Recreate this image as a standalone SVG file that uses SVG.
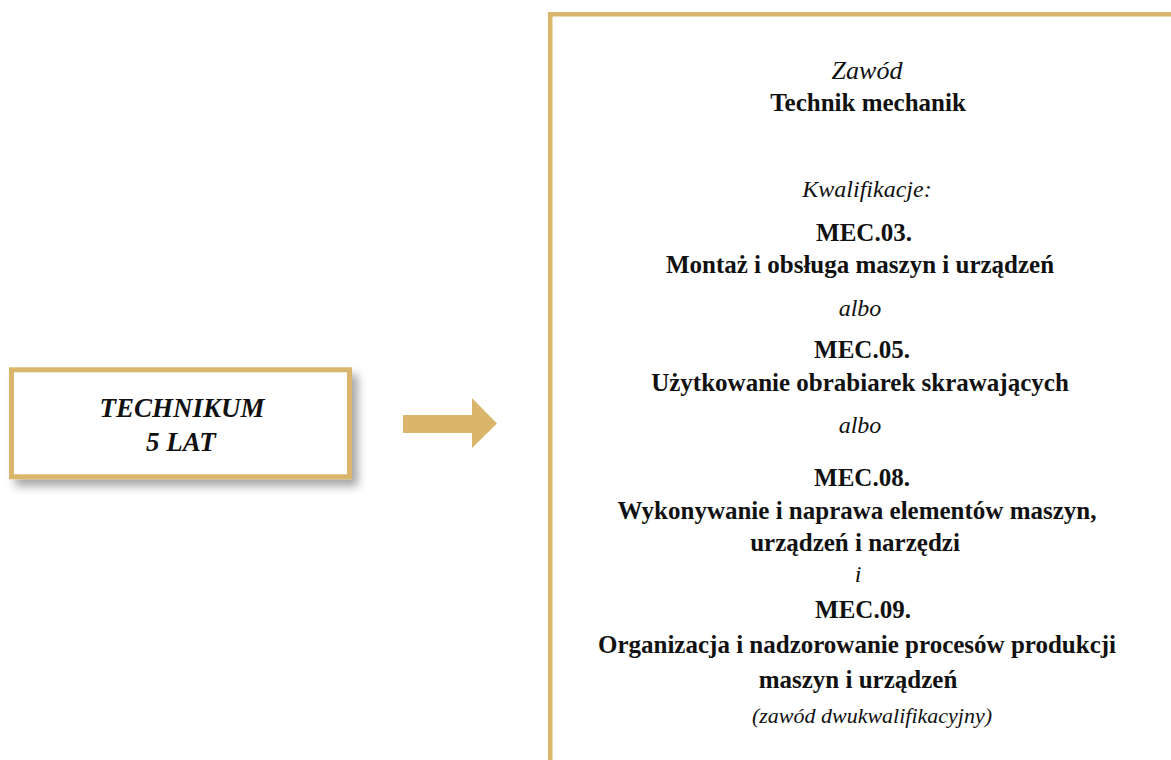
<svg xmlns="http://www.w3.org/2000/svg" width="1171" height="760" viewBox="0 0 1171 760">
<style>
.b{font-family:"Liberation Serif","Times New Roman",serif;font-weight:bold;font-size:25px;fill:#111;text-anchor:middle}
.i{font-family:"Liberation Serif","Times New Roman",serif;font-style:italic;font-size:24px;fill:#111;text-anchor:middle}
.bi{font-family:"Liberation Serif","Times New Roman",serif;font-style:italic;font-weight:bold;font-size:27px;fill:#111;text-anchor:middle}
.gold{fill:none;stroke:#DAB66C}
</style>
<defs>
<filter id="sh" x="-20%" y="-40%" width="150%" height="190%">
<feGaussianBlur in="SourceAlpha" stdDeviation="5"/>
<feOffset dx="6" dy="7" result="o"/>
<feComponentTransfer><feFuncA type="linear" slope="0.35"/></feComponentTransfer>
<feMerge><feMergeNode/><feMergeNode in="SourceGraphic"/></feMerge>
</filter>
</defs>
<rect width="1171" height="760" fill="#fff"/>
<g id="technikum">
<rect x="11.5" y="369.8" width="338" height="107" fill="#fff" stroke="#DAB66C" stroke-width="5" filter="url(#sh)"/>
<text class="bi" x="182" y="417">TECHNIKUM</text>
<text class="bi" x="181" y="451">5 LAT</text>
</g>
<g id="connectors">
<path d="M403,415 H472 V398 L497,423.5 L472,448 V433 H403 Z" fill="#DAB66C"/>
</g>
<g id="zawod">
<path class="gold" d="M550.2,760 V14.3 H1171" stroke-width="4.6"/>
<text class="i" x="867" y="79" style="font-size:26px">Zawód</text>
<text class="b" x="868" y="111">Technik mechanik</text>
<text class="i" x="867" y="197">Kwalifikacje:</text>
<text class="b" x="864" y="241">MEC.03.</text>
<text class="b" x="860" y="273">Montaż i obsługa maszyn i urządzeń</text>
<text class="i" x="860" y="316">albo</text>
<text class="b" x="862" y="358">MEC.05.</text>
<text class="b" x="860" y="391">Użytkowanie obrabiarek skrawających</text>
<text class="i" x="860" y="433">albo</text>
<text class="b" x="862" y="486">MEC.08.</text>
<text class="b" x="857" y="519">Wykonywanie i naprawa elementów maszyn,</text>
<text class="b" x="855" y="551">urządzeń i narzędzi</text>
<text class="i" x="858" y="582">i</text>
<text class="b" x="863" y="618">MEC.09.</text>
<text class="b" x="857" y="653">Organizacja i nadzorowanie procesów produkcji</text>
<text class="b" x="858" y="688">maszyn i urządzeń</text>
<text class="i" x="872" y="723" style="font-size:22px">(zawód dwukwalifikacyjny)</text>
</g>
</svg>
